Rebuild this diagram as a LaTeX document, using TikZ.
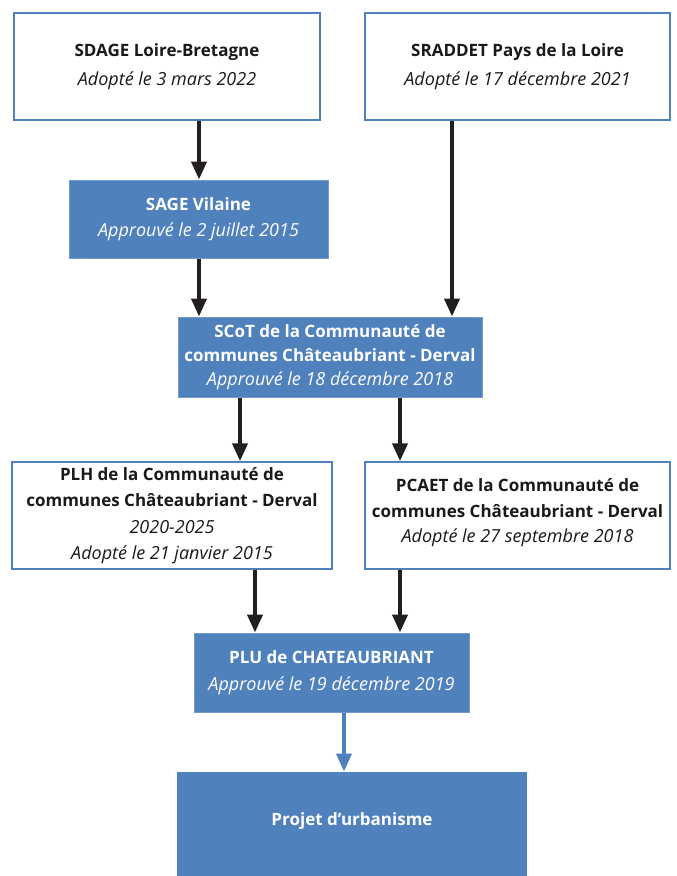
\documentclass[tikz,border=0pt]{standalone}
\usepackage{fontspec}
\setmainfont{Open Sans}
\usetikzlibrary{arrows.meta}
\definecolor{bl}{HTML}{4F81BD}
\definecolor{ink}{HTML}{231F20}
\definecolor{tx}{HTML}{1A1A1A}
\newcommand{\bline}[1]{{\fontsize{17}{17}\selectfont\bfseries #1}}
\newcommand{\iline}[1]{{\fontsize{18}{18}\selectfont\itshape #1}}
\tikzset{
  wbox/.style={draw=bl, line width=1.5pt, fill=white, inner sep=0pt, align=center, text=tx},
  fbox/.style={draw=bl!80!white, line width=1pt, fill=bl, inner sep=0pt, align=center, text=white},
  arr/.style={draw=ink, line width=4pt, -{Triangle[width=15pt,length=18pt]}},
  barr/.style={draw=bl, line width=4pt, -{Triangle[width=15pt,length=18pt]}}
}
\begin{document}
\begin{tikzpicture}[x=1pt,y=-1pt]
\useasboundingbox (0,0) rectangle (677,876);
\clip (0,0) rectangle (677,876);
\node[wbox, minimum width=306, minimum height=107, font=\fontsize{17}{29}\selectfont] (sdage) at (167,66.5)
  {\bline{SDAGE Loire-Bretagne}\\\iline{Adopté le 3 mars 2022}};
\node[wbox, minimum width=305, minimum height=107, font=\fontsize{17}{29}\selectfont] (sraddet) at (517.5,66.5)
  {\bline{SRADDET Pays de la Loire}\\\iline{Adopté le 17 décembre 2021}};
\node[fbox, minimum width=259, minimum height=78, font=\fontsize{17}{26}\selectfont] (sage) at (198.5,219)
  {\bline{SAGE Vilaine}\\\iline{Approuvé le 2 juillet 2015}};
\node[fbox, minimum width=304, minimum height=80, font=\fontsize{17}{24}\selectfont] (scot) at (330,357)
  {\bline{SCoT de la Communauté de}\\\bline{communes Châteaubriant - Derval}\\\iline{Approuvé le 18 décembre 2018}};
\node[wbox, minimum width=320, minimum height=107, font=\fontsize{17}{26.5}\selectfont] (plh) at (172,515.5)
  {\bline{PLH de la Communauté de}\\\bline{communes Châteaubriant - Derval}\\\iline{2020-2025}\\\iline{Adopté le 21 janvier 2015}};
\node[wbox, minimum width=305, minimum height=107, font=\fontsize{17}{25.5}\selectfont] (pcaet) at (517.5,515.5)
  {\bline{PCAET de la Communauté de}\\\bline{communes Châteaubriant - Derval}\\\iline{Adopté le 27 septembre 2018}\\[-16pt]};
\node[fbox, minimum width=275, minimum height=79, font=\fontsize{17}{27}\selectfont] (plu) at (331.5,672.5)
  {\bline{PLU de CHATEAUBRIANT}\\\iline{Approuvé le 19 décembre 2019}};
\fill[bl] (177,772) rectangle (527,880);
\node[fbox, draw=none, minimum width=350, minimum height=98, font=\fontsize{17}{27}\selectfont] (projet) at (352,821)
  {\bline{Projet d’urbanisme}};
\draw[arr] (sdage.south -| 199,0) -- (sage.north -| 199,0);
\draw[arr] (sage.south -| 199,0) -- (scot.north -| 199,0);
\draw[arr] (sraddet.south -| 452,0) -- (scot.north -| 452,0);
\draw[arr] (scot.south -| 240,0) -- (plh.north -| 240,0);
\draw[arr] (scot.south -| 400,0) -- (pcaet.north -| 400,0);
\draw[arr] (plh.south -| 255,0) -- (plu.north -| 255,0);
\draw[arr] (pcaet.south -| 400,0) -- (plu.north -| 400,0);
\draw[barr] (plu.south -| 344,0) -- (projet.north -| 344,0);
\end{tikzpicture}
\end{document}
